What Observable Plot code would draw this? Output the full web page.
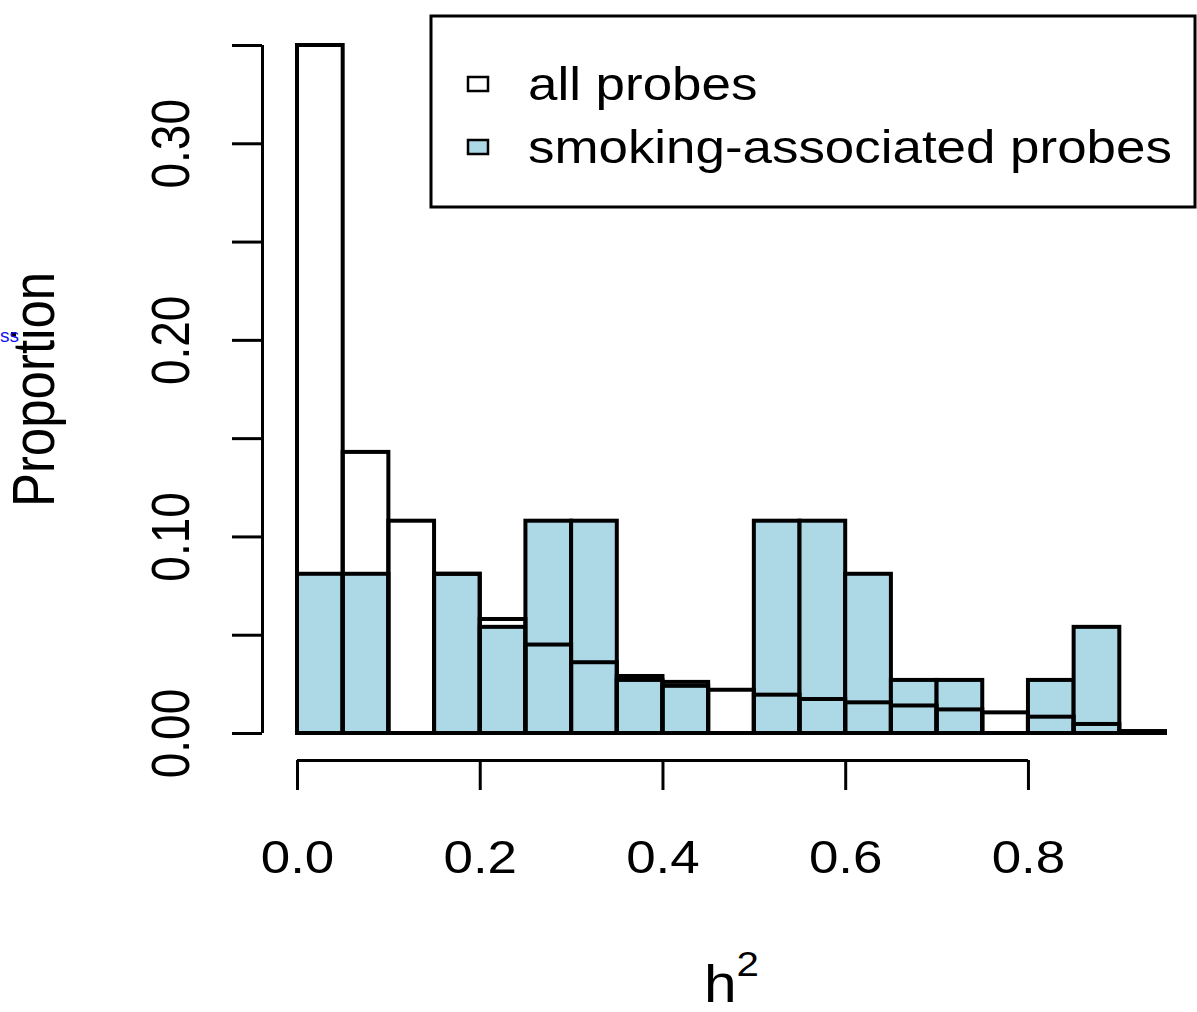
<!DOCTYPE html>
<html>
<head>
<meta charset="utf-8">
<script src="https://cdn.jsdelivr.net/npm/d3@7"></script>
<script src="https://cdn.jsdelivr.net/npm/@observablehq/plot@0.6"></script>
<style>
  html, body { margin: 0; padding: 0; background: white; overflow: hidden; }
</style>
</head>
<body>
<div id="chart"></div>
<script>
// ---- data ----
const binEdges = [0, 0.05, 0.1, 0.15, 0.2, 0.25, 0.3, 0.35, 0.4, 0.45, 0.5, 0.55, 0.6, 0.65, 0.7, 0.75, 0.8, 0.85, 0.9, 0.95];
const allProbes = [0.350, 0.143, 0.108, 0.081, 0.058, 0.045, 0.036, 0.029, 0.026, 0.022, 0.0195, 0.0173, 0.0156, 0.014, 0.012, 0.0105, 0.0083, 0.0046, 0.001];
const smokingProbes = [0.081, 0.081, 0, 0.081, 0.054, 0.108, 0.108, 0.027, 0.024, 0, 0.108, 0.108, 0.081, 0.027, 0.027, 0, 0.027, 0.054, 0];
const yTicks = [0, 0.05, 0.1, 0.15, 0.2, 0.25, 0.3, 0.35];
const yTickLabels = [0, 0.1, 0.2, 0.3];
const xTicks = [0, 0.2, 0.4, 0.6, 0.8];
const legendLabels = ["all probes", "smoking-associated probes"];
const legendFills = ["white", "lightblue"];
const xLabel = "h";
const xLabelSup = "2";
const yLabel = "Proportion";
const strayText = "ss";

const bins = (values) => values.map((v, i) => ({lo: binEdges[i], hi: binEdges[i + 1], v}));

const FONT = "'Liberation Sans', Arial, Helvetica, sans-serif";
const STRETCH = 1.15;

const plot = Plot.plot({
  width: 1197,
  height: 1012,
  marginLeft: 297,
  marginRight: 32,
  marginTop: 45,
  marginBottom: 279,
  style: {background: "white", fontFamily: FONT, overflow: "visible"},
  x: {domain: [0, 0.95]},
  y: {domain: [0, 0.35]},
  marks: [
    Plot.rectY(bins(smokingProbes), {x1: "lo", x2: "hi", y: "v", fill: "lightblue", stroke: "black", strokeWidth: 4}),
    Plot.rectY(bins(allProbes), {x1: "lo", x2: "hi", y: "v", fill: "none", stroke: "black", strokeWidth: 4}),
    // y axis
    Plot.ruleX([0], {y1: 0, y2: 0.35, dx: -35, stroke: "black", strokeWidth: 3}),
    Plot.axisY(yTicks, {tickSize: 30, dx: -35, tickFormat: () => "", label: null, strokeWidth: 3}),
    Plot.text(yTickLabels, {y: d => d, text: d => d.toFixed(2), frameAnchor: "left", dx: -125, rotate: -90,
      textAnchor: "middle", lineAnchor: "middle", fontSize: 46, fill: "black"}),
    // x axis
    Plot.ruleY([0], {x1: 0, x2: 0.8, dy: 27, stroke: "black", strokeWidth: 3}),
    Plot.axisX(xTicks, {tickSize: 30, tickPadding: 50, dy: 27, fontSize: 46, tickFormat: d => d.toFixed(1), label: null, strokeWidth: 3}),
    // axis titles
    Plot.text([yLabel], {frameAnchor: "left", dx: -262, rotate: -90, fontSize: 51, lineAnchor: "middle", textAnchor: "middle", fill: "black"}),
    Plot.text([xLabel], {frameAnchor: "bottom", dy: 252, fontSize: 51, lineAnchor: "middle", textAnchor: "middle", fill: "black"})
  ]
});

document.getElementById("chart").appendChild(plot);
const svg = d3.select(plot.tagName.toLowerCase() === "svg" ? plot : plot.querySelector("svg"));

// superscript on x label
svg.selectAll("text").filter(function() { return this.textContent === xLabel; }).each(function() {
  d3.select(this).append("tspan").attr("font-size", 35).attr("dy", -26).text(xLabelSup);
});

// horizontal stretch of text (mimics the reference's aspect)
svg.selectAll("text").each(function() {
  const t = this.getAttribute("transform");
  if (!t) return;
  if (/rotate\(/.test(t)) this.setAttribute("transform", t + ` scale(1,${STRETCH})`);
  else this.setAttribute("transform", t + ` scale(${STRETCH},1)`);
});

// legend
const lg = svg.append("g").attr("font-family", FONT).attr("text-anchor", "start");
lg.append("rect").attr("x", 431).attr("y", 16).attr("width", 764).attr("height", 191)
  .attr("fill", "white").attr("stroke", "black").attr("stroke-width", 3);
legendLabels.forEach((lab, i) => {
  const base = 100 + i * 63;
  lg.append("rect").attr("x", 468).attr("y", base - 23).attr("width", 20).attr("height", 14)
    .attr("fill", legendFills[i]).attr("stroke", "black").attr("stroke-width", 2.5);
  lg.append("text").attr("transform", `translate(528,${base}) scale(${STRETCH},1)`)
    .attr("text-anchor", "start").attr("font-size", 46).attr("fill", "black").text(lab);
});

// stray link text at the left edge
svg.append("text").attr("x", 0).attr("y", 342).attr("text-anchor", "start")
  .attr("font-family", FONT).attr("font-size", 19).attr("fill", "#1010ee").text(strayText);
</script>
</body>
</html>
